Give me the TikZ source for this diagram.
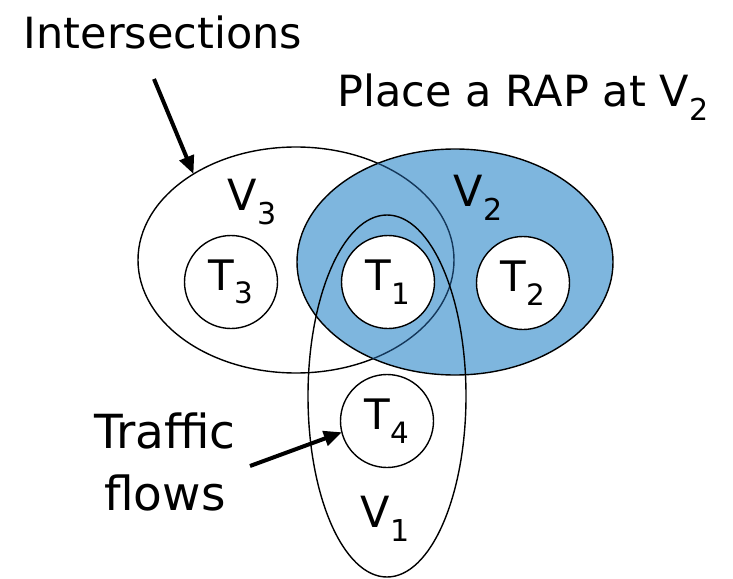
\documentclass[tikz,border=0pt]{standalone}
\usepackage{fontspec}
\setmainfont{DejaVu Sans}
\usetikzlibrary{shapes.geometric,arrows.meta}
\definecolor{rapblue}{RGB}{126,182,222}
\definecolor{rimblue}{RGB}{20,55,90}
\newcommand{\lowidx}[1]{\raisebox{-0.32em}{\scalebox{0.7}{#1}}}
\tikzset{
  region/.style={ellipse,draw=black,line width=1.4pt,inner sep=0pt,outer sep=0pt},
  flow/.style={circle,draw=black,fill=white,line width=1.4pt,minimum size=93pt,inner sep=0pt,outer sep=0pt,font=\fontsize{42}{44}\selectfont},
  lbl/.style={inner sep=0pt,font=\fontsize{43}{60}\selectfont},
  pointer/.style={line width=4pt,-{Triangle[length=18pt,width=15pt]}}
}
\begin{document}
\begin{tikzpicture}[x=1pt,y=-1pt]
\useasboundingbox (0,0) rectangle (733,578);
% cells
\node[region,minimum width=316pt,minimum height=226pt] (v3) at (296,260) {};
\node[region,fill=rapblue,minimum width=316pt,minimum height=226pt] (v2) at (455,262) {};
\begin{scope}
  \clip (455,262) ellipse [x radius=158, y radius=113];
  \draw[rimblue,line width=1.4pt] (296,260) ellipse [x radius=158, y radius=113];
\end{scope}
\node[region,minimum width=158pt,minimum height=362pt] (v1) at (387,396) {};
% traffic flows
\node[flow] (t3) at (231,282) {T\lowidx{3}};
\node[flow] (t1) at (388,282) {T\lowidx{1}};
\node[flow] (t2) at (523,283) {T\lowidx{2}};
\node[flow] (t4) at (387,421) {T\lowidx{4}};
% cell labels
\node[lbl] (l3) at (252,202) {V\lowidx{3}};
\node[lbl] (l2) at (478,198) {V\lowidx{2}};
\node[lbl] (l1) at (385,519) {V\lowidx{1}};
% annotations
\node[lbl] (inter) at (163,32) {Intersections};
\node[lbl] (place) at (523,97) {Place a RAP at V\lowidx{2}};
\node[lbl,align=center,font=\fontsize{47}{62}\selectfont] (traffic) at (165,462) {Traffic\\flows};
\coordinate (p1) at (154,79);
\coordinate (p2) at (250,466);
\draw[pointer] (p1) -- (v3.140);
\draw[pointer] (p2) -- (t4.194);
\end{tikzpicture}
\end{document}
